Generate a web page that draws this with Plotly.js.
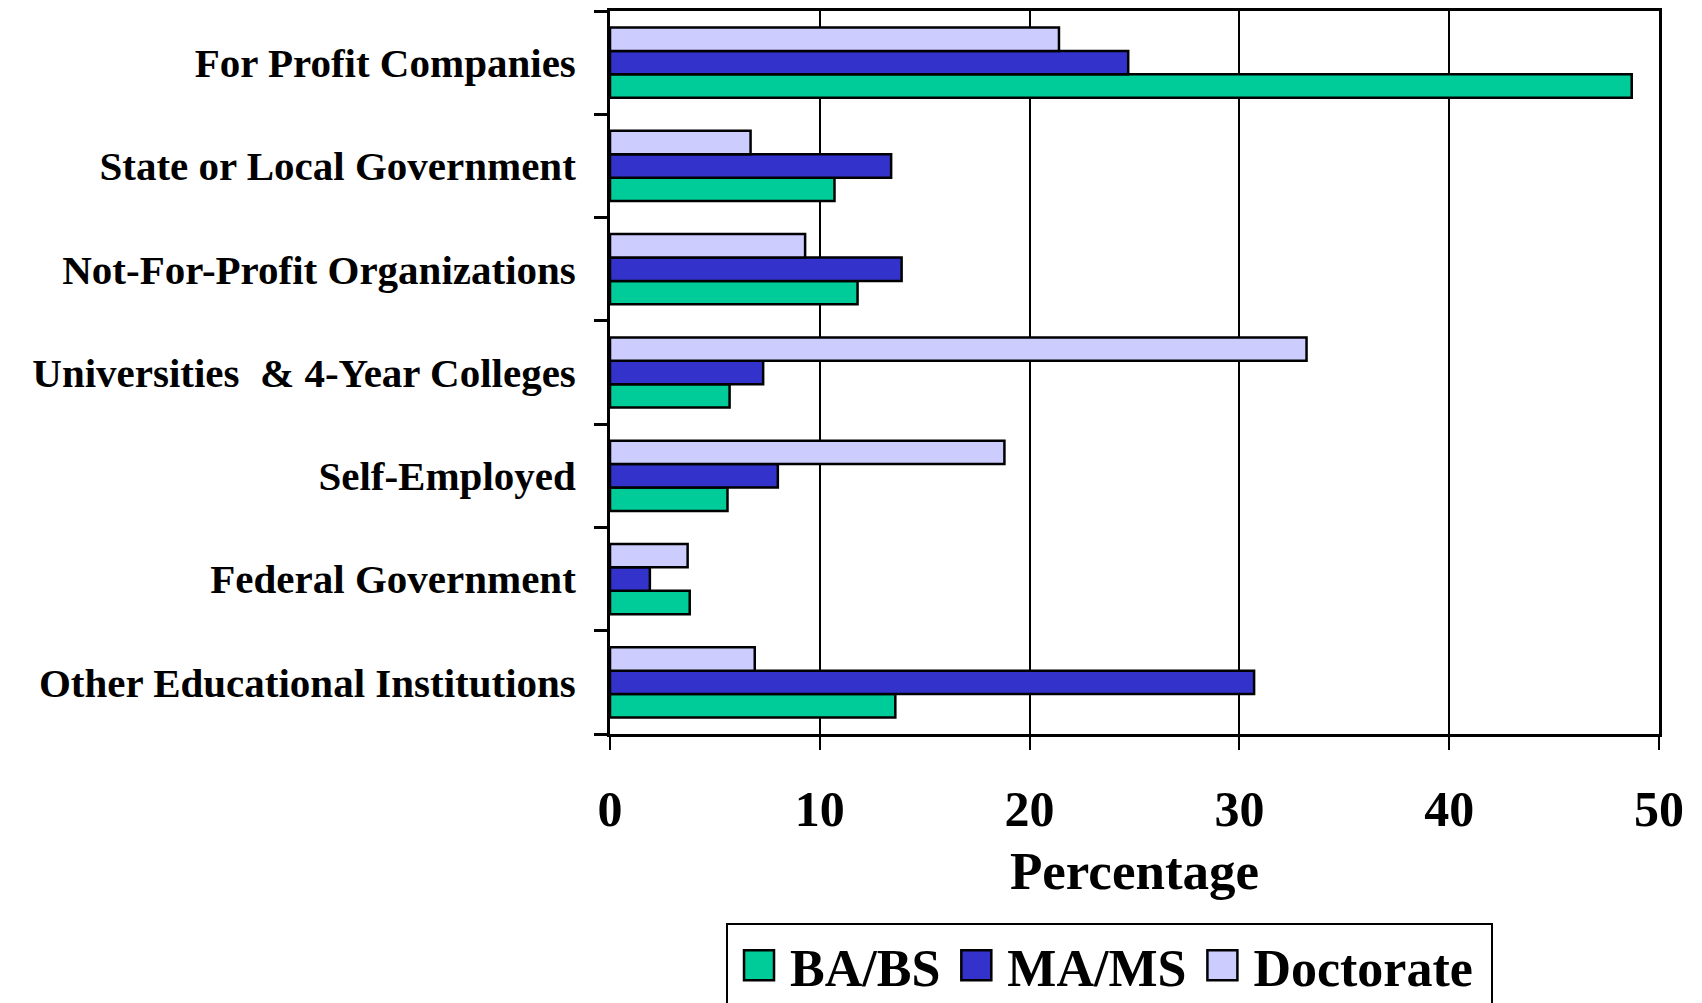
<!DOCTYPE html>
<html><head><meta charset="utf-8">
<script src="https://cdn.plot.ly/plotly-3.0.1.min.js"></script>
<style>html,body{margin:0;padding:0;background:#fff}#chart{width:1702px;height:1003px}</style>
</head><body><div id="chart"></div>
<script>
const categories = ["For Profit Companies","State or Local Government","Not-For-Profit Organizations","Universities\u00a0 & 4-Year Colleges","Self-Employed","Federal Government","Other Educational Institutions"];
const baBs = [48.7,10.7,11.8,5.7,5.6,3.8,13.6];
const maMs = [24.7,13.4,13.9,7.3,8.0,1.9,30.7];
const doctorate = [21.4,6.7,9.3,33.2,18.8,3.7,6.9];
const seriesNames = ["BA/BS","MA/MS","Doctorate"];
const seriesColors = ["#00CC99","#3333CC","#CCCCFF"];
const xTicks = [0,10,20,30,40,50];
const xTitle = "Percentage";

const FONT = "Liberation Serif, 'Times New Roman', serif";
const seriesValues = [baBs, maMs, doctorate];
const traces = seriesValues.map((vals, i) => ({
  type: "bar",
  orientation: "h",
  name: seriesNames[i] + (i === seriesNames.length - 1 ? "\u00a0" : ""),
  y: categories,
  x: vals,
  marker: {color: seriesColors[i], line: {color: "#000", width: 2.5}},
  hoverinfo: "x+y"
}));

const layout = {
  width: 1702, height: 1003,
  paper_bgcolor: "#fff", plot_bgcolor: "#fff",
  margin: {l: 610, r: 43, t: 11, b: 269, pad: 0},
  font: {family: FONT, color: "#000", weight: "bold"},
  barmode: "group",
  bargap: 0.32,
  bargroupgap: 0,
  showlegend: true,
  xaxis: {
    automargin: false,
    range: [0, 50], tickvals: xTicks, ticktext: xTicks.map(String),
    showgrid: true, gridcolor: "#000", gridwidth: 2,
    zeroline: false,
    showline: true, linecolor: "#000", linewidth: 3, mirror: true,
    ticks: "outside", ticklen: 13, tickwidth: 2, tickcolor: "#000",
    tickfont: {family: FONT, size: 50, color: "#000", weight: "bold"},
    ticklabelstandoff: 16,
    title: {text: xTitle, font: {family: FONT, size: 53, color: "#000", weight: "bold"}, standoff: 16},
    fixedrange: true
  },
  yaxis: {
    automargin: false,
    type: "category",
    categoryorder: "array",
    categoryarray: categories.slice().reverse(),
    tickson: "boundaries",
    ticks: "outside", ticklen: 13, tickwidth: 3, tickcolor: "#000",
    showline: true, linecolor: "#000", linewidth: 3, mirror: true,
    showgrid: false, zeroline: false,
    tickfont: {family: FONT, size: 41, color: "#000", weight: "bold"},
    ticklabelstandoff: 23,
    fixedrange: true
  },
  legend: {
    orientation: "h",
    xref: "paper", x: 0.1106, xanchor: "left",
    yref: "container", y: 0.0798, yanchor: "top",
    bordercolor: "#000", borderwidth: 2, bgcolor: "#fff",
    font: {family: FONT, size: 52, color: "#000", weight: "bold"},
    itemwidth: 52,
    traceorder: "normal"
  }
};

Plotly.newPlot("chart", traces, layout, {displayModeBar: false, staticPlot: true}).then(() => {
  document.querySelectorAll("#chart .legend .legendpoints path").forEach(p => {
    p.setAttribute("d", "M15,15H-15V-15H15Z");
    p.style.strokeWidth = "2.5px";
  });
});
</script>
</body></html>
